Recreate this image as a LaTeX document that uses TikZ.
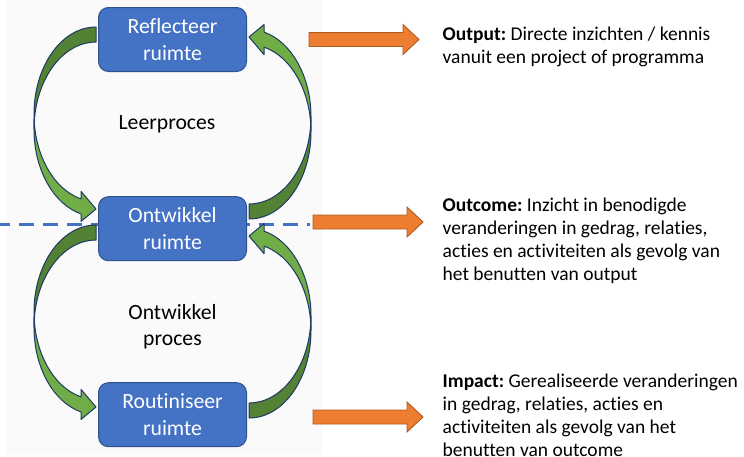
\documentclass[tikz,border=0pt]{standalone}
\usepackage{fontspec}
\setmainfont{Carlito}[Ligatures=NoCommon]
\frenchspacing
\usetikzlibrary{calc}
\definecolor{boxblue}{HTML}{4472C4}
\definecolor{boxedge}{HTML}{2F528F}
\definecolor{greenlight}{HTML}{70AD47}
\definecolor{greendark}{HTML}{548235}
\definecolor{arrowedge}{HTML}{1F3864}
\definecolor{orangefill}{HTML}{ED7D31}
\definecolor{orangeedge}{HTML}{AE5A21}
\definecolor{panelgray}{HTML}{FAFAFA}
\newcommand\leftlines[1]{\vtop{\halign{##\hfil\cr#1\crcr}}}
\newcommand\midlines[1]{\vtop{\halign{\hfil##\hfil\cr#1\crcr}}}
\tikzset{
  roombox/.style={rectangle, rounded corners=10pt, fill=boxblue, draw=boxedge,
    line width=1pt, minimum width=148pt, minimum height=64pt, text=white,
    align=center, inner sep=0pt, font=\fontsize{21.7}{26.5}\selectfont},
  proclabel/.style={inner sep=0pt, text=black, font=\fontsize{21.7}{26.5}\selectfont},
  desclabel/.style={inner sep=0pt, anchor=base west, text=black, font=\fontsize{19.5}{23.2}\selectfont},
  dashline/.style={draw=boxblue, line width=2.8pt, dash pattern=on 15pt off 9pt, dash phase=5pt},
  ellarc/.style={x radius=62, y radius=87.25},
  curvearrow/.pic={
    \fill[greendark] (0,87.25) arc[start angle=180, end angle=270, ellarc] -- (62,15)
      arc[start angle=270, end angle=184.93, ellarc] -- cycle;
    \fill[greenlight] (0,87.25) arc[start angle=180, end angle=104, ellarc]
      -- (47,164.4) -- (62,182) -- (47,194.4) -- (47,186.9)
      arc[start angle=104, end angle=180, ellarc] -- cycle;
    \draw[arrowedge, line width=1pt, line join=round] (0,87.25)
      arc[start angle=180, end angle=104, ellarc]
      -- (47,164.4) -- (62,182) -- (47,194.4) -- (47,186.9)
      arc[start angle=104, end angle=180, ellarc] -- (0,87.25)
      arc[start angle=180, end angle=270, ellarc] -- (62,15)
      arc[start angle=270, end angle=184.93, ellarc];
  },
  orangearrow/.pic={
    \draw[draw=orangeedge, fill=orangefill, line width=0.9pt, line join=miter]
      (0,-7) -- (94,-7) -- (94,-15) -- (110,0) -- (94,15) -- (94,7) -- (0,7) -- cycle;
  }
}
\begin{document}
\begin{tikzpicture}[x=1pt, y=-1pt]
\useasboundingbox (0,0) rectangle (744,456);
\clip (0,0) rectangle (744,456);
\fill[panelgray] (7,0) rectangle (323,455);

% dashed separator
\coordinate (dl) at (0,224.5);
\coordinate (dr) at (310,224.5);
\draw[dashline] (dl) -- (dr);

% green curved arrows
\pic (ga) at (34,27) {curvearrow};
\pic (gb) at (34,225) {curvearrow};
\pic[rotate=180] (gc) at (311,219) {curvearrow};
\pic[rotate=180] (gd) at (311,418) {curvearrow};

% rooms
\node[roombox] (refl) at (172.5,39.5) {Reflecteer\\ruimte};
\node[roombox] (ontw) at (172.5,228.7) {Ontwikkel\\ruimte};
\node[roombox] (rout) at (172.5,414.7) {Routiniseer\\ruimte};

% process labels
\node[proclabel, anchor=base] (leer) at (167,129) {Leerproces};
\node[proclabel, anchor=base] (ontwproc) at (172.5,319) {\midlines{Ontwikkel\cr proces}};

% orange arrows
\pic (oa) at (309,39.5) {orangearrow};
\pic (ob) at (313,222) {orangearrow};
\pic (oc) at (313,417) {orangearrow};

% descriptions
\node[desclabel] (outp) at (442.5,40) {\leftlines{\textbf{Output:} Directe inzichten / kennis\cr vanuit een project of programma}};
\node[desclabel] (outc) at (442.5,211) {\leftlines{\textbf{Outcome:} Inzicht in benodigde\cr veranderingen in gedrag, relaties,\cr acties en activiteiten als gevolg van\cr het benutten van output}};
\node[desclabel] (impa) at (442.5,387) {\leftlines{\textbf{Impact:} Gerealiseerde veranderingen\cr in gedrag, relaties, acties en\cr activiteiten als gevolg van het\cr benutten van outcome}};
\end{tikzpicture}
\end{document}
